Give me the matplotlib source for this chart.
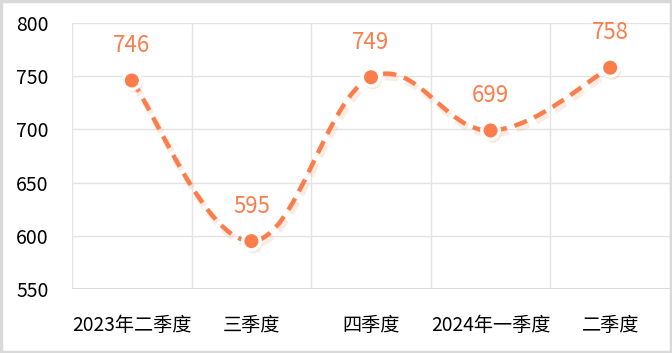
import numpy as np
import matplotlib
matplotlib.use("Agg")
import matplotlib.pyplot as plt
import matplotlib.patheffects as pe
from matplotlib.path import Path
from matplotlib.patches import PathPatch, Rectangle

plt.rcParams['font.family'] = ['Noto Sans CJK SC', 'DejaVu Sans']

categories = ['2023年二季度', '三季度', '四季度', '2024年一季度', '二季度']
values = [746, 595, 749, 699, 758]
yticks = [550, 600, 650, 700, 750, 800]

orange = '#fa7d4b'

fig = plt.figure(figsize=(6.72, 3.53), dpi=100)
ax = fig.add_axes([72 / 672, 64 / 353, 598 / 672, 266 / 353])

x = np.arange(len(values))
y = np.array(values, dtype=float)

# smooth curve through the points, drawn as cubic bezier segments
verts = [(x[0], y[0])]
codes = [Path.MOVETO]
k = 0.19
for i in range(len(x) - 1):
    p0 = (x[max(i - 1, 0)], y[max(i - 1, 0)])
    p1 = (x[i], y[i])
    p2 = (x[i + 1], y[i + 1])
    p3 = (x[min(i + 2, len(x) - 1)], y[min(i + 2, len(x) - 1)])
    c1 = (p1[0] + (p2[0] - p0[0]) * k, p1[1] + (p2[1] - p0[1]) * k)
    c2 = (p2[0] - (p3[0] - p1[0]) * k, p2[1] - (p3[1] - p1[1]) * k)
    verts += [c1, c2, p2]
    codes += [Path.CURVE4] * 3

curve = PathPatch(Path(verts, codes), facecolor='none', edgecolor=orange,
                  linewidth=3.2, linestyle=(0, (3, 1.8)), zorder=3,
                  path_effects=[pe.SimpleLineShadow(offset=(1.5, -2.5), shadow_color='#f6b293', alpha=0.25, linewidth=5),
                                pe.Normal()])
ax.add_patch(curve)

ax.plot(x, y, 'o', color=orange, markersize=12.5, markeredgecolor='white',
        markeredgewidth=2.4, zorder=4,
        path_effects=[pe.SimplePatchShadow(offset=(1.5, -2.5), shadow_rgbFace='#f6b293', alpha=0.3), pe.Normal()])

for xi, yi in zip(x, values):
    ax.annotate(str(yi), (xi, yi), xytext=(0, 17), textcoords='offset points',
                ha='center', va='bottom', color=orange, fontsize=16)

ax.set_xlim(-0.5, len(values) - 0.5)
ax.set_ylim(550, 800)
ax.set_yticks(yticks)
ax.set_xticks(x)
ax.set_xticklabels(categories)
ax.grid(False)
for yt in yticks:
    ax.axhline(yt, color='#e3e3e3', linewidth=1, zorder=1)
for xb in np.arange(-0.5, len(values)):
    ax.axvline(xb, color='#e3e3e3', linewidth=1, zorder=1)
ax.axhline(550, color='#d4d4d4', linewidth=1.2, zorder=1)

for s in ax.spines.values():
    s.set_visible(False)
ax.tick_params(axis='both', which='both', length=0, colors='black')
ax.tick_params(axis='y', pad=17, labelsize=14)
ax.tick_params(axis='x', pad=19, labelsize=13.8)

fig.patches.append(Rectangle((0.002, 0.004), 0.996, 0.992, transform=fig.transFigure,
                             fill=False, edgecolor='#d9d9d9', linewidth=2.5))

fig.savefig('out.png', dpi=100)
